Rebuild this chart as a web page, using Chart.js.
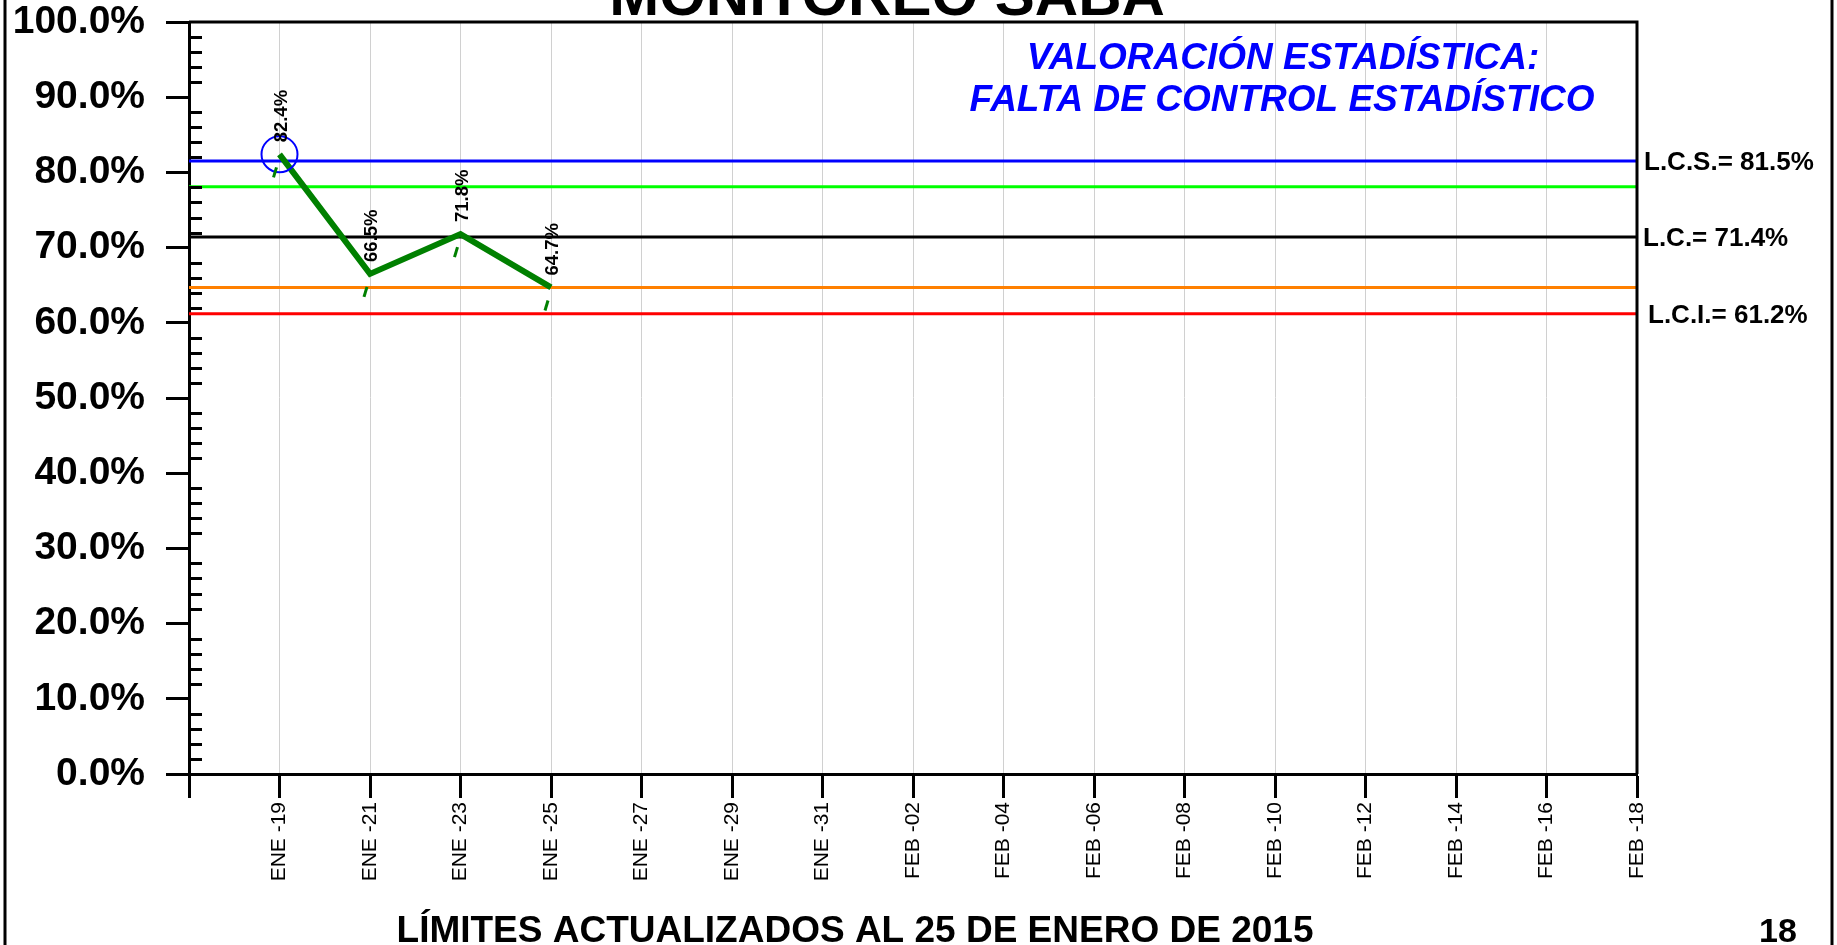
<!DOCTYPE html>
<html>
<head>
<meta charset="utf-8">
<script src="https://cdn.jsdelivr.net/npm/chart.js@4/dist/chart.umd.min.js"></script>
<style>
  body { margin: 0; background: #fff; }
  canvas { display: block; }
</style>
</head>
<body>
<canvas id="chart" width="1837" height="945"></canvas>
<script>
// fechas (cada 2 dias), la primera posicion es el borde izquierdo sin etiqueta
var fechas = ['', 'ENE -19', 'ENE -21', 'ENE -23', 'ENE -25', 'ENE -27', 'ENE -29', 'ENE -31',
    'FEB -02', 'FEB -04', 'FEB -06', 'FEB -08', 'FEB -10', 'FEB -12', 'FEB -14', 'FEB -16', 'FEB -18'];
var valores = [null, 82.4, 66.5, 71.8, 64.7, null, null, null, null, null, null, null, null, null, null, null, null];

// limites de control
var LCS = 81.5;
var LC = 71.4;
var LCI = 61.2;
var alerta_sup = 78.1;
var alerta_inf = 64.7;

var yTicks = [0, 10, 20, 30, 40, 50, 60, 70, 80, 90, 100];

var FONT = "'Liberation Sans', Arial, sans-serif";

function linea(v) {
    return fechas.map(function () { return v; });
}

var overlay = {
    id: 'overlay',
    afterDatasetsDraw: function (chart) {
        var ctx = chart.ctx;
        var meta = chart.getDatasetMeta(0);
        ctx.save();
        meta.data.forEach(function (pt, i) {
            var v = valores[i];
            if (v === null || v === undefined) return;
            // pequeña marca verde bajo cada punto
            ctx.strokeStyle = '#008000';
            ctx.lineWidth = 3;
            ctx.beginPath();
            ctx.moveTo(pt.x - 6, pt.y + 23);
            ctx.lineTo(pt.x - 3, pt.y + 13);
            ctx.stroke();
            // etiqueta vertical
            ctx.save();
            ctx.translate(pt.x + 7, pt.y - 12);
            ctx.rotate(-Math.PI / 2);
            ctx.fillStyle = '#000';
            ctx.font = 'bold 18.5px ' + FONT;
            ctx.textAlign = 'left';
            ctx.textBaseline = 'alphabetic';
            ctx.fillText(v.toFixed(1) + '%', 0, 0);
            ctx.restore();
        });
        ctx.restore();
    },
    afterDraw: function (chart) {
        var ctx = chart.ctx;
        var a = chart.chartArea;
        var y = chart.scales.y;
        ctx.save();

        // ticks menores hacia dentro
        ctx.strokeStyle = '#000';
        ctx.lineWidth = 3;
        for (var v = 2; v < 100; v += 2) {
            if (v % 10 === 0) continue;
            var py = Math.round(y.getPixelForValue(v)) + 0.5;
            ctx.beginPath();
            ctx.moveTo(a.left, py);
            ctx.lineTo(a.left + 13, py);
            ctx.stroke();
        }

        // borde superior y derecho del area
        ctx.beginPath();
        ctx.moveTo(a.left, a.top);
        ctx.lineTo(a.right, a.top);
        ctx.lineTo(a.right, a.bottom);
        ctx.stroke();

        // marco exterior
        ctx.lineWidth = 3;
        ctx.beginPath();
        ctx.moveTo(5, 0); ctx.lineTo(5, 945);
        ctx.moveTo(1832, 0); ctx.lineTo(1832, 945);
        ctx.stroke();

        // titulo
        ctx.fillStyle = '#000';
        ctx.textAlign = 'center';
        ctx.textBaseline = 'alphabetic';
        ctx.font = 'bold 60px ' + FONT;
        ctx.fillText('MONITOREO SABA', 887, 15);

        // valoracion
        ctx.fillStyle = '#0000FF';
        ctx.font = 'italic bold 37px ' + FONT;
        ctx.fillText('VALORACIÓN ESTADÍSTICA:', 1283, 69);
        ctx.fillText('FALTA DE CONTROL ESTADÍSTICO', 1282, 111);

        // etiquetas de limites
        ctx.fillStyle = '#000';
        ctx.textAlign = 'left';
        ctx.font = 'bold 26px ' + FONT;
        ctx.fillText('L.C.S.= ' + LCS.toFixed(1) + '%', a.right + 7, y.getPixelForValue(LCS) + 9);
        ctx.fillText('L.C.= ' + LC.toFixed(1) + '%', a.right + 6, y.getPixelForValue(LC) + 9);
        ctx.fillText('L.C.I.= ' + LCI.toFixed(1) + '%', a.right + 11, y.getPixelForValue(LCI) + 9);

        // pie
        ctx.textAlign = 'center';
        ctx.font = 'bold 37px ' + FONT;
        ctx.fillText('LÍMITES ACTUALIZADOS AL 25 DE ENERO DE 2015', 855, 942);
        ctx.font = 'bold 34px ' + FONT;
        ctx.fillText('18', 1778, 942);

        ctx.restore();
    }
};

var ctx = document.getElementById('chart');
var chart = new Chart(ctx, {
    type: 'line',
    data: {
        labels: fechas,
        datasets: [{
            label: 'Monitoreo',
            data: valores,
            borderColor: '#008000',
            borderWidth: 6,
            pointRadius: function (c) {
                var v = c.raw;
                return (v !== null && v > LCS) ? 18 : 0;
            },
            pointHoverRadius: 0,
            pointBorderColor: '#0000FF',
            pointBackgroundColor: 'rgba(0,0,0,0)',
            pointBorderWidth: 2,
            tension: 0,
            spanGaps: false
        }, {
            label: 'LCS',
            data: linea(LCS),
            borderColor: '#0000FF',
            borderWidth: 3,
            pointRadius: 0
        }, {
            label: 'Alerta superior',
            data: linea(alerta_sup),
            borderColor: '#00FF00',
            borderWidth: 3,
            pointRadius: 0
        }, {
            label: 'LC',
            data: linea(LC),
            borderColor: '#000000',
            borderWidth: 3,
            pointRadius: 0
        }, {
            label: 'Alerta inferior',
            data: linea(alerta_inf),
            borderColor: '#FF8000',
            borderWidth: 3,
            pointRadius: 0
        }, {
            label: 'LCI',
            data: linea(LCI),
            borderColor: '#FF0000',
            borderWidth: 3,
            pointRadius: 0
        }]
    },
    options: {
        responsive: false,
        animation: false,
        events: [],
        layout: {
            padding: { left: 0, right: 200, top: 22, bottom: 51 }
        },
        plugins: {
            legend: { display: false },
            tooltip: { enabled: false }
        },
        scales: {
            x: {
                type: 'category',
                offset: false,
                border: { color: '#000', width: 3 },
                grid: {
                    color: '#d0d0d0',
                    lineWidth: 1,
                    tickLength: 24,
                    tickColor: '#000',
                    tickWidth: 3
                },
                ticks: {
                    autoSkip: false,
                    maxRotation: 90,
                    minRotation: 90,
                    padding: 4,
                    color: '#000',
                    font: { family: FONT, size: 21 }
                },
                afterFit: function (s) {
                    s.height = 120;
                    s.paddingLeft = 0;
                    s.paddingRight = 0;
                }
            },
            y: {
                min: 0,
                max: 100,
                border: { color: '#000', width: 3 },
                grid: {
                    drawOnChartArea: false,
                    tickLength: 23,
                    tickColor: '#000',
                    tickWidth: 3
                },
                afterBuildTicks: function (s) {
                    s.ticks = yTicks.map(function (v) { return { value: v }; });
                },
                ticks: {
                    padding: 21,
                    color: '#000',
                    font: { family: FONT, size: 39, weight: 'bold' },
                    callback: function (v) { return v.toFixed(1) + '%'; }
                },
                afterFit: function (s) {
                    s.width = 189;
                    s.paddingTop = 0;
                    s.paddingBottom = 0;
                }
            }
        }
    },
    plugins: [overlay]
});
</script>
</body>
</html>
